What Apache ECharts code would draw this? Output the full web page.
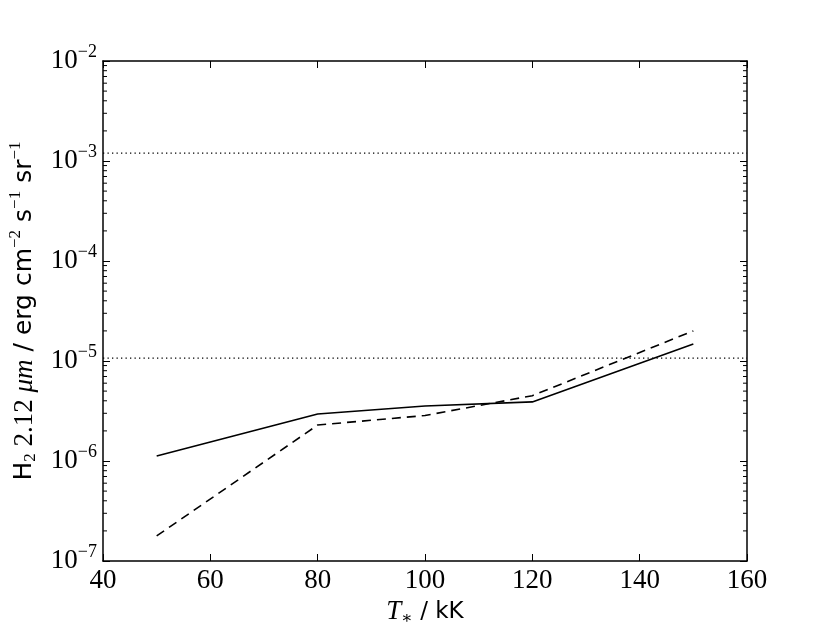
<!DOCTYPE html>
<html>
<head>
<meta charset="utf-8">
<script src="https://cdn.jsdelivr.net/npm/echarts@6/dist/echarts.min.js"></script>
<style>html,body{margin:0;padding:0;background:#fff}#c{width:830px;height:623px}</style>
</head>
<body>
<div id="c"></div>
<script>
const temps = [50, 80, 100, 120, 150];
const solidVals = [1.12e-6, 2.95e-6, 3.55e-6, 3.9e-6, 1.48e-5];
const dashedVals = [1.78e-7, 2.29e-6, 2.85e-6, 4.5e-6, 2.0e-5];
const refUpper = 1.2e-3;
const refLower = 1.07e-5;
const xTicks = [40, 60, 80, 100, 120, 140, 160];
const yMin = 1e-7, yMax = 1e-2;
const minorTickVals = [];
for (let e = -7; e < -2; e++) for (let m = 2; m <= 9; m++) minorTickVals.push(m * Math.pow(10, e));

const xMin = xTicks[0], xMax = xTicks[xTicks.length - 1];
const serif = "'Liberation Serif', 'DejaVu Serif', serif";
const sans = "'DejaVu Sans', 'Liberation Sans', sans-serif";

const chart = echarts.init(document.getElementById('c'), null, {renderer: 'canvas'});

const yLabelRich = {
  b: {fontFamily: serif, fontSize: 27, color: '#000'},
  s: {fontFamily: serif, fontSize: 18, color: '#000', padding: [0, 0, 18, 0]}
};

const option = {
  animation: false,
  backgroundColor: '#fff',
  grid: {left: 103, right: 83, top: 61, bottom: 62, containLabel: false, outerBoundsMode: 'none'},
  xAxis: [{
    type: 'value', min: xMin, max: xMax, interval: 20,
    axisLine: {lineStyle: {color: '#000', width: 1.5}},
    axisTick: {inside: true, length: 7, lineStyle: {color: '#000', width: 1}},
    splitLine: {show: false},
    axisLabel: {fontFamily: serif, fontSize: 27, color: '#000', margin: 6},
    name: '{t|T}{st|∗}{n| / kK}',
    nameLocation: 'middle', nameGap: 26,
    nameTextStyle: {
      rich: {
        t: {fontFamily: serif, fontStyle: 'italic', fontSize: 27, color: '#000'},
        st: {fontFamily: serif, fontSize: 17, color: '#000', padding: [12, 0, 0, 0]},
        n: {fontFamily: sans, fontSize: 23, color: '#000'}
      }
    }
  }, {
    type: 'value', position: 'top', min: xMin, max: xMax, interval: 20,
    axisLine: {show: true, lineStyle: {color: '#000', width: 1.5}},
    axisTick: {show: true, inside: true, length: 7, lineStyle: {color: '#000', width: 1}},
    axisLabel: {show: false}, splitLine: {show: false}
  }],
  yAxis: [{
    type: 'log', logBase: 10, min: yMin, max: yMax, interval: 1,
    axisLine: {lineStyle: {color: '#000', width: 1.5}},
    axisTick: {inside: true, length: 7, lineStyle: {color: '#000', width: 1}},
    splitLine: {show: false},
    axisLabel: {
      margin: 6,
      formatter: function (v) {
        const e = Math.round(Math.log10(v));
        return '{b|10}{s|−' + Math.abs(e) + '}';
      },
      rich: yLabelRich
    },
    name: '{n|H}{sub|2}{m| 2.12 }{mu|μm}{n| / erg cm}{sup|−2}{n| s}{sup|−1}{n| sr}{sup|−1}',
    nameLocation: 'middle', nameRotate: 90, nameGap: 61,
    nameTextStyle: {
      rich: {
        n: {fontFamily: sans, fontSize: 25, color: '#000'},
        sub: {fontFamily: serif, fontSize: 17, color: '#000', padding: [12, 0, 0, 0]},
        m: {fontFamily: serif, fontSize: 27, color: '#000'},
        mu: {fontFamily: serif, fontStyle: 'italic', fontSize: 27, color: '#000'},
        sup: {fontFamily: serif, fontSize: 17, color: '#000', padding: [0, 0, 18, 0]}
      }
    }
  }, {
    type: 'log', logBase: 10, position: 'right', min: yMin, max: yMax, interval: 1,
    axisLine: {show: true, lineStyle: {color: '#000', width: 1.5}},
    axisTick: {show: true, inside: true, length: 7, lineStyle: {color: '#000', width: 1}},
    axisLabel: {show: false}, splitLine: {show: false}
  }],
  series: [
    {
      type: 'line', data: [[xMin, refUpper], [xMax, refUpper]], symbol: 'none',
      lineStyle: {color: '#000', width: 1.3, type: [1.3, 3.2]}, z: 2
    },
    {
      type: 'line', data: [[xMin, refLower], [xMax, refLower]], symbol: 'none',
      lineStyle: {color: '#000', width: 1.3, type: [1.3, 3.2]}, z: 2
    },
    {
      type: 'line', data: temps.map((t, i) => [t, solidVals[i]]), symbol: 'none',
      lineStyle: {color: '#000', width: 1.6}, z: 3
    },
    {
      type: 'line', data: temps.map((t, i) => [t, dashedVals[i]]), symbol: 'none',
      lineStyle: {color: '#000', width: 1.6, type: [9, 6]}, z: 3
    },
    {
      type: 'custom', silent: true, z: 4,
      data: minorTickVals.map(v => [xMin, v]),
      renderItem: function (params, api) {
        const v = api.value(1);
        const pl = api.coord([xMin, v]);
        const pr = api.coord([xMax, v]);
        return {
          type: 'group', children: [
            {type: 'line', shape: {x1: pl[0], y1: pl[1], x2: pl[0] + 4, y2: pl[1]}, style: {stroke: '#000', lineWidth: 1}},
            {type: 'line', shape: {x1: pr[0], y1: pr[1], x2: pr[0] - 4, y2: pr[1]}, style: {stroke: '#000', lineWidth: 1}}
          ]
        };
      }
    }
  ]
};
chart.setOption(option);
</script>
</body>
</html>
